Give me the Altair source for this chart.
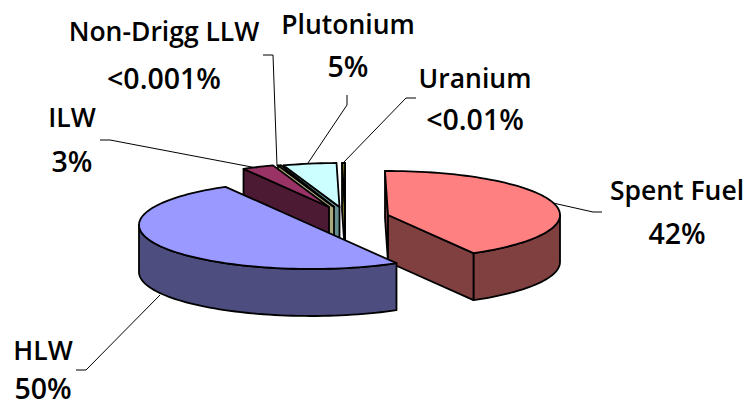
import math
import altair as alt

# Shares of the inventory, in percent, clockwise from just left of twelve o'clock
names = ["Spent Fuel", "HLW", "ILW", "Non-Drigg LLW", "Plutonium", "Uranium"]
shares = [42.0, 50.0, 3.0, 0.001, 5.0, 0.01]
share_labels = ["42%", "50%", "3%", "<0.001%", "5%", "<0.01%"]

# Face colours: top of the slice, then its darker side
top_colours = ["#ff8080", "#9999ff", "#993366", "#d6d6a8", "#ccffff", "#808020"]
side_colours = ["#804040", "#4d4d80", "#4d1a33", "#a8a87c", "#669090", "#6b6b20"]

# Where each slice's apex sits once the pie is pulled apart
apex_x = [388, 311, 329, 334, 339.5, 345]
apex_y = [215, 225, 207, 207, 207, 207]

# Ellipse radii and wall height of the tilted pie
RX, RY, DEPTH = 172, 44, 47
START_ANGLE = -1.0
# Very thin slices still get a sliver so their faces can be seen
MIN_SWEEP = 1.0
# Back to front
PAINT_ORDER = [5, 4, 3, 2, 0, 1]

# Label placement: name line centre, then value line centre
label_x = [677, 43, 72, 164, 348, 475]
name_y = [192, 352, 119, 33, 26, 80]
value_y = [235, 390, 163, 80, 68, 121]
NAME_SIZE, VALUE_SIZE = 26.5, 28.5

# Leader lines from each label to its slice
leaders = [
    [(602, 212), (593, 212), (553, 203)],
    [(160, 295), (86, 370), (76, 370)],
    [(100, 140), (110, 140), (257, 168)],
    [(263, 55), (273, 55), (277, 166)],
    [(347, 95), (347, 105), (308, 163)],
    [(416, 98), (406, 98), (343, 163)],
]


def rim(i, deg):
    a = math.radians(deg)
    return (apex_x[i] + RX * math.sin(a), apex_y[i] - RY * math.cos(a))


def sweep_points(i, start, end):
    steps = max(2, int(abs(end - start) / 2) + 1)
    return [rim(i, start + (end - start) * k / steps) for k in range(steps + 1)]


def drop(points):
    return [(x, y + DEPTH) for x, y in points]


def feature(points, fill):
    ring = [list(p) for p in points] + [list(points[0])]
    return {
        "type": "Feature",
        "geometry": {"type": "Polygon", "coordinates": [ring]},
        "properties": {"fill": fill},
    }


def slice_faces(i, start, end):
    apex = (apex_x[i], apex_y[i])
    side, top = side_colours[i], top_colours[i]
    faces = []
    # Outer wall, only on the near half of the ellipse
    lo, hi = max(start, 90), min(end, 270)
    if hi > lo:
        arc = sweep_points(i, lo, hi)
        faces.append(feature(arc + drop(arc)[::-1], side))
    # Cut faces that turn towards the viewer
    for deg, visible in ((start, math.sin(math.radians(start)) < 0),
                         (end, math.sin(math.radians(end)) > 0)):
        if visible:
            edge = [apex, rim(i, deg)]
            faces.append(feature(edge + drop(edge)[::-1], side))
    faces.append(feature([apex] + sweep_points(i, start, end), top))
    return faces


starts, running = [], START_ANGLE
for s in shares:
    starts.append(running)
    running += s * 3.6

faces = []
for i in PAINT_ORDER:
    sweep = max(shares[i] * 3.6, MIN_SWEEP)
    faces += slice_faces(i, starts[i], starts[i] + sweep)

pie = (
    alt.Chart(alt.Data(values=faces))
    .mark_geoshape(stroke="black", strokeWidth=1.8, strokeJoin="round")
    .encode(fill=alt.Fill("properties.fill:N", scale=None))
    .project(type="identity", scale=1, translate=[0, 0])
)

leader_rows = [
    {"leader": names[i], "step": k, "x": x, "y": y}
    for i, path in enumerate(leaders)
    for k, (x, y) in enumerate(path)
]
xs = alt.Scale(domain=[0, 752], range=[0, 752])
ys = alt.Scale(domain=[0, 405], range=[0, 405])

lines = (
    alt.Chart(alt.Data(values=leader_rows))
    .mark_line(color="black", strokeWidth=1)
    .encode(
        x=alt.X("x:Q", scale=xs, axis=None),
        y=alt.Y("y:Q", scale=ys, axis=None),
        detail="leader:N",
        order="step:Q",
    )
)


def label_layer(rows, size):
    return (
        alt.Chart(alt.Data(values=rows))
        .mark_text(font="Open Sans", fontSize=size, fontWeight=600, color="black",
                   align="center", baseline="middle")
        .encode(
            x=alt.X("x:Q", scale=xs, axis=None),
            y=alt.Y("y:Q", scale=ys, axis=None),
            text="t:N",
        )
    )


name_rows = [{"x": x, "y": y, "t": t} for x, y, t in zip(label_x, name_y, names)]
value_rows = [{"x": x, "y": y, "t": t} for x, y, t in zip(label_x, value_y, share_labels)]

chart = (
    alt.layer(pie, lines, label_layer(name_rows, NAME_SIZE), label_layer(value_rows, VALUE_SIZE))
    .properties(width=752, height=405, padding=0,
                autosize=alt.AutoSizeParams(type="none"), background="white")
    .configure_view(stroke=None)
)

chart.save("out.html", embed_options={"renderer": "svg", "actions": False})
